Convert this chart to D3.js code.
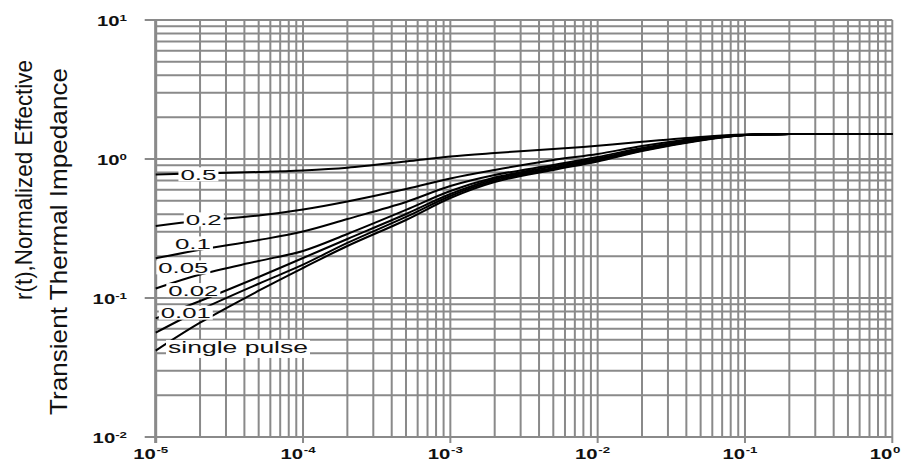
<!DOCTYPE html>
<html>
<head>
<meta charset="utf-8">
<script src="https://cdn.jsdelivr.net/npm/d3@7"></script>
<style>
  body { margin: 0; background: #fff; }
  svg { display: block; font-family: "Liberation Sans", Arial, sans-serif; }
</style>
</head>
<body>
<svg id="chart" width="910" height="464"></svg>
<script>
// pulse duration t (s)
const times = [1e-5, 2e-5, 5e-5, 1e-4, 2e-4, 5e-4, 1e-3, 2e-3, 5e-3, 1e-2, 2e-2, 5e-2, 1e-1, 2e-1, 5e-1, 1];

// r(t), one array per duty cycle
const duty05 = [0.774, 0.788, 0.806, 0.827, 0.865, 0.960, 1.042, 1.104, 1.18, 1.245, 1.33, 1.44, 1.50, 1.51, 1.51, 1.51];
const duty02 = [0.330, 0.359, 0.392, 0.433, 0.495, 0.608, 0.725, 0.834, 0.984, 1.086, 1.24, 1.416, 1.488, 1.51, 1.51, 1.51];
const duty01 = [0.193, 0.222, 0.261, 0.301, 0.370, 0.491, 0.639, 0.767, 0.906, 1.034, 1.20, 1.393, 1.488, 1.51, 1.51, 1.51];
const duty005 = [0.117, 0.1476, 0.1846, 0.218, 0.2887, 0.430, 0.588, 0.736, 0.883, 1.008, 1.18, 1.381, 1.488, 1.51, 1.51, 1.51];
const duty002 = [0.0714, 0.0951, 0.1416, 0.194, 0.2657, 0.402, 0.560, 0.718, 0.862, 0.992, 1.16, 1.37, 1.488, 1.51, 1.51, 1.51];
const duty001 = [0.0563, 0.082, 0.1267, 0.1737, 0.249, 0.383, 0.542, 0.700, 0.847, 0.9755, 1.151, 1.37, 1.488, 1.51, 1.51, 1.51];
const single = [0.0418, 0.0664, 0.1128, 0.1644, 0.2366, 0.364, 0.524, 0.683, 0.834, 0.959, 1.142, 1.359, 1.488, 1.51, 1.51, 1.51];

const seriesNames = ["0.5", "0.2", "0.1", "0.05", "0.02", "0.01", "single pulse"];
const seriesValues = [duty05, duty02, duty01, duty005, duty002, duty001, single];

// where each curve's label sits, in data units (t, r)
const labelT = [1.95e-5, 2.12e-5, 1.79e-5, 1.54e-5, 1.80e-5, 1.60e-5, 3.62e-5];
const labelR = [0.776, 0.368, 0.247, 0.166, 0.114, 0.0784, 0.043];

const xTickExps = [-5, -4, -3, -2, -1, 0];
const yTickExps = [-2, -1, 0, 1];
const yTitle = ["r(t),Normalized Effective", "Transient Thermal Impedance"];

const svg = d3.select("#chart");
const plotL = 155.7, plotR = 892.3, plotT = 20, plotB = 437;

const x = d3.scaleLog().domain([1e-5, 1]).range([plotL, plotR]);
const y = d3.scaleLog().domain([0.01, 10]).range([plotB, plotT]);

const gridColor = "#8a8a8a";
const isMajor = (v) => Math.abs(Math.log10(v) - Math.round(Math.log10(v))) < 1e-9;

// grid
const grid = svg.append("g").attr("stroke", gridColor).attr("stroke-width", 2);
grid.selectAll(".vx")
  .data(x.ticks())
  .join("line")
  .attr("x1", (d) => x(d)).attr("x2", (d) => x(d))
  .attr("y1", plotT)
  .attr("y2", (d) => (isMajor(d) ? plotB + 6 : plotB));
grid.selectAll(".hy")
  .data(y.ticks())
  .join("line")
  .attr("y1", (d) => y(d)).attr("y2", (d) => y(d))
  .attr("x1", (d) => (isMajor(d) ? plotL - 11 : plotL))
  .attr("x2", plotR);
// left axis line a bit heavier
svg.append("line")
  .attr("x1", plotL).attr("x2", plotL).attr("y1", plotT).attr("y2", plotB + 6)
  .attr("stroke", gridColor).attr("stroke-width", 3);

// curves
const line = d3.line()
  .x((d) => x(d[0]))
  .y((d) => y(d[1]))
  .curve(d3.curveCatmullRom.alpha(0.5));

svg.append("g")
  .selectAll("path")
  .data(seriesValues)
  .join("path")
  .attr("d", (vals) => line(times.map((t, i) => [t, vals[i]])))
  .attr("fill", "none")
  .attr("stroke", "#000")
  .attr("stroke-width", 2);

// curve labels on white boxes
const labelWidth = (name) => (name === "single pulse" ? 140 : name.length === 3 ? 36 : 50);
const labelSize = (name) => (name === "single pulse" ? 16.5 : 15.5);
const labels = svg.append("g")
  .selectAll("g")
  .data(seriesNames)
  .join("g")
  .attr("transform", (d, i) => `translate(${x(labelT[i])},${y(labelR[i])})`);
labels.append("rect")
  .attr("x", (d) => -labelWidth(d) / 2 - 2)
  .attr("y", (d) => (d === "single pulse" ? -9 : -7))
  .attr("width", (d) => labelWidth(d) + 4)
  .attr("height", (d) => (d === "single pulse" ? 18 : 14))
  .attr("fill", "#fff");
labels.append("text")
  .attr("text-anchor", "middle")
  .attr("y", (d) => (d === "single pulse" ? 4.5 : 5.5))
  .attr("font-size", labelSize)
  .attr("textLength", labelWidth)
  .attr("lengthAdjust", "spacingAndGlyphs")
  .attr("fill", "#111")
  .text((d) => d);

// x tick labels: "10" ends on the tick, exponent after it
const xl = svg.append("g").selectAll("g")
  .data(xTickExps)
  .join("g")
  .attr("transform", (e) => `translate(${x(Math.pow(10, e))},458.5) scale(1.4,1)`)
  .attr("fill", "#111")
  .attr("font-weight", "bold");
xl.append("text").attr("text-anchor", "end").attr("font-size", 14.5).text("10");
xl.append("text").attr("x", 0.5).attr("y", -5.5).attr("font-size", 9.5).text((e) => e);

// y tick labels, right aligned
const yl = svg.append("g").selectAll("text")
  .data(yTickExps)
  .join("text")
  .attr("transform", (e) => `translate(127,${y(Math.pow(10, e)) + 6}) scale(1.4,1)`)
  .attr("text-anchor", "end")
  .attr("fill", "#111")
  .attr("font-weight", "bold");
yl.append("tspan").attr("font-size", 14.5).text("10");
yl.append("tspan").attr("font-size", 9.5).attr("dy", -5.5).text((e) => e);

// axis title (two rotated lines)
svg.append("text")
  .attr("transform", "translate(31.5,180) rotate(-90)")
  .attr("text-anchor", "middle")
  .attr("font-size", 24)
  .attr("textLength", 240)
  .attr("lengthAdjust", "spacingAndGlyphs")
  .attr("fill", "#111")
  .text(yTitle[0]);
svg.append("text")
  .attr("transform", "translate(67,241.5) rotate(-90)")
  .attr("text-anchor", "middle")
  .attr("font-size", 24)
  .attr("textLength", 347)
  .attr("lengthAdjust", "spacingAndGlyphs")
  .attr("fill", "#111")
  .text(yTitle[1]);
</script>
</body>
</html>
